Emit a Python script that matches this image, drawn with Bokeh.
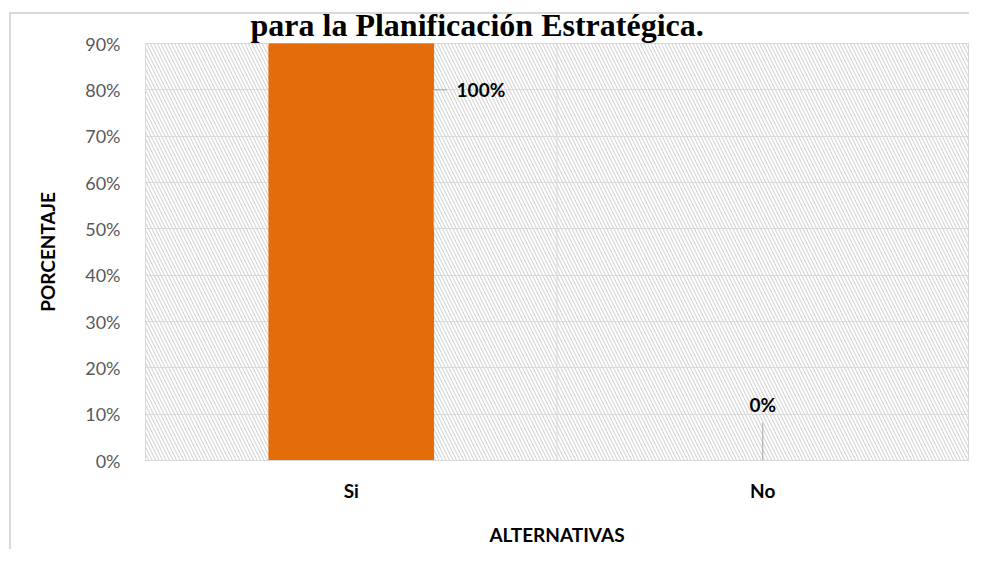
from bokeh.plotting import figure
from bokeh.models import (ColumnDataSource, FixedTicker, NumeralTickFormatter, Span,
                          BoxAnnotation, Title, Range1d, FactorRange)
from bokeh.transform import dodge
from bokeh.core.properties import value
from bokeh.embed import file_html
from bokeh.resources import INLINE

# ---- data ----
categories = ["Si", "No"]
percentages = [1.00, 0.00]
value_labels = ["100%", "0%"]
y_ticks = [0.0, 0.1, 0.2, 0.3, 0.4, 0.5, 0.6, 0.7, 0.8, 0.9]
title_text = "para la Planificación Estratégica."
x_title = "ALTERNATIVAS"
y_title = "PORCENTAJE"

# ---- styles ----
BAR_COLOR = "#E46C0A"
GRID_COLOR = "#d9d9d9"
LEADER_COLOR = "#a6a6a6"
FONT = "Lato"

W, H = 969, 549
p = figure(width=W, height=H,
           x_range=FactorRange(*categories), y_range=Range1d(0, 0.9),
           output_backend="svg", toolbar_location=None,
           min_border_left=145, min_border_right=1,
           min_border_top=43, min_border_bottom=89)

p.background_fill_color = "white"
p.border_fill_color = None
p.outline_line_color = GRID_COLOR
p.outline_line_width = 1
# outer chart-area border (thin light-grey line at left and top)
p.styles = {
    "background": ("linear-gradient(#d9d9d9,#d9d9d9) 9px 12px / 100% 2px no-repeat, "
                   "linear-gradient(#d9d9d9,#d9d9d9) 9px 12px / 2px 100% no-repeat, white"),
}

# title at the top of the chart
p.add_layout(Title(text=title_text, text_font="Liberation Serif",
                   text_font_style="bold", text_font_size="32px",
                   align="left", offset=105, standoff=2,
                   vertical_align="bottom", text_color="black"), "above")

# hatched plot-area background
hatch = BoxAnnotation(fill_alpha=0, line_alpha=0, hatch_pattern="\\",
                      hatch_color="#cccccc", hatch_scale=7, hatch_weight=1,
                      level="image")
p.add_layout(hatch)

# grid
p.ygrid.ticker = FixedTicker(ticks=y_ticks)
p.ygrid.grid_line_color = GRID_COLOR
p.xgrid.visible = False
p.add_layout(Span(location=1, dimension="height", line_color=GRID_COLOR,
                  line_width=1, level="underlay"))

# bars
src = ColumnDataSource(dict(cat=categories, val=percentages, lab=value_labels))
p.vbar(x="cat", top="val", width=0.4, source=src, fill_color=BAR_COLOR,
       line_color=BAR_COLOR)

# data labels with leader lines
si_idx = categories.index("Si")
no_idx = categories.index("No")
si_src = ColumnDataSource(dict(cat=[categories[si_idx]], lab=[value_labels[si_idx]],
                               y0=[0.5], y1=[0.8]))
no_src = ColumnDataSource(dict(cat=[categories[no_idx]], lab=[value_labels[no_idx]],
                               y0=[0.0], y1=[0.082], ylab=[0.12]))

p.segment(x0=dodge("cat", 0.2, range=p.x_range), y0="y0",
          x1=dodge("cat", 0.2, range=p.x_range), y1="y1",
          source=si_src, line_color=LEADER_COLOR, line_width=1)
p.segment(x0=dodge("cat", 0.2, range=p.x_range), y0="y1",
          x1=dodge("cat", 0.232, range=p.x_range), y1="y1",
          source=si_src, line_color=LEADER_COLOR, line_width=1)
p.text(x=dodge("cat", 0.256, range=p.x_range), y="y1", text="lab", source=si_src,
       text_font=value(FONT), text_font_style="bold", text_font_size="19px",
       text_align="left", text_baseline="middle", text_color="black")

p.segment(x0="cat", y0="y0", x1="cat", y1="y1", source=no_src,
          line_color=LEADER_COLOR, line_width=1)
p.text(x="cat", y="ylab", text="lab", source=no_src,
       text_font=value(FONT), text_font_style="bold", text_font_size="19px",
       text_align="center", text_baseline="middle", text_color="black")

# axes
p.yaxis.ticker = FixedTicker(ticks=y_ticks)
p.yaxis.formatter = NumeralTickFormatter(format="0%")
p.yaxis.axis_line_color = None
p.yaxis.major_tick_line_color = None
p.yaxis.minor_tick_line_color = None
p.yaxis.major_tick_out = 0
p.yaxis.major_label_standoff = 25
p.yaxis.major_label_text_font = FONT
p.yaxis.major_label_text_font_size = "18px"
p.yaxis.major_label_text_color = "#595959"
p.yaxis.axis_label = y_title
p.yaxis.axis_label_text_font = FONT
p.yaxis.axis_label_text_font_style = "bold"
p.yaxis.axis_label_text_font_size = "19px"
p.yaxis.axis_label_text_color = "black"
p.yaxis.axis_label_standoff = 23

p.xaxis.axis_line_color = GRID_COLOR
p.xaxis.major_tick_line_color = None
p.xaxis.major_tick_out = 0
p.xaxis.major_label_standoff = 18
p.xaxis.major_label_text_font = FONT
p.xaxis.major_label_text_font_style = "bold"
p.xaxis.major_label_text_font_size = "19px"
p.xaxis.major_label_text_color = "black"
p.xaxis.axis_label = x_title
p.xaxis.axis_label_text_font = FONT
p.xaxis.axis_label_text_font_style = "bold"
p.xaxis.axis_label_text_font_size = "19px"
p.xaxis.axis_label_text_color = "black"
p.xaxis.axis_label_standoff = 18

open("out.html", "w").write(file_html(p, INLINE))
